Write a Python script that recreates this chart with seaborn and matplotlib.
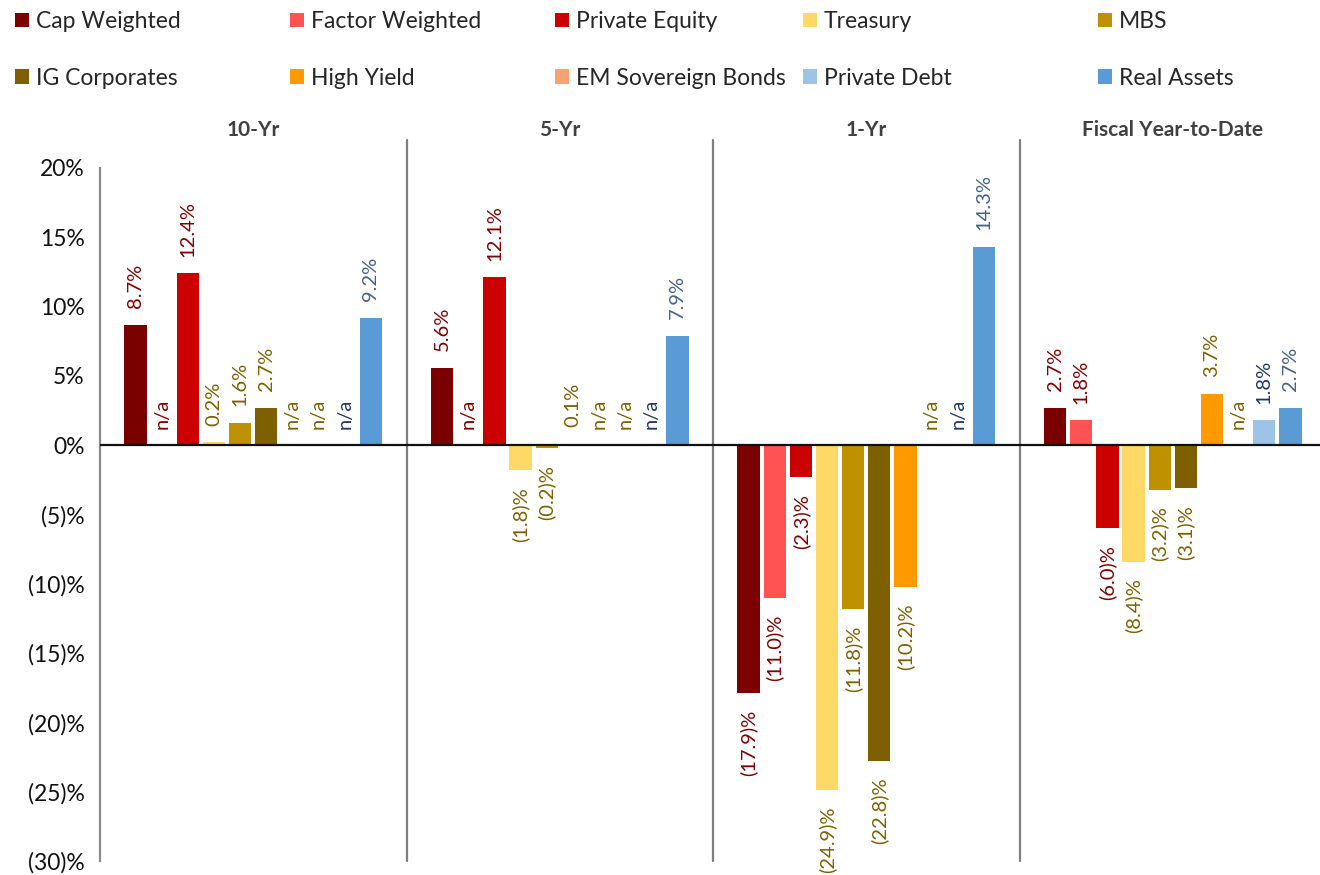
import numpy as np
import pandas as pd
import matplotlib
matplotlib.use("Agg")
import matplotlib.pyplot as plt
from matplotlib.patches import Patch
import seaborn as sns

# ---- data -------------------------------------------------------------
periods = ["10-Yr", "5-Yr", "1-Yr", "Fiscal Year-to-Date"]
assets = ["Cap Weighted", "Factor Weighted", "Private Equity", "Treasury", "MBS",
          "IG Corporates", "High Yield", "EM Sovereign Bonds", "Private Debt", "Real Assets"]

ret_10yr = [8.7, np.nan, 12.4, 0.2, 1.6, 2.7, np.nan, np.nan, np.nan, 9.2]
ret_5yr = [5.6, np.nan, 12.1, -1.8, -0.2, 0.1, np.nan, np.nan, np.nan, 7.9]
ret_1yr = [-17.9, -11.0, -2.3, -24.9, -11.8, -22.8, -10.2, np.nan, np.nan, 14.3]
ret_fytd = [2.7, 1.8, -6.0, -8.4, -3.2, -3.1, 3.7, np.nan, 1.8, 2.7]

yticks = [20, 15, 10, 5, 0, -5, -10, -15, -20, -25, -30]

# ---- styling ----------------------------------------------------------
bar_colors = ["#7B0000", "#FF5353", "#CC0000", "#FFD966", "#BF9000",
              "#7F6000", "#FF9900", "#F8A173", "#9DC3E6", "#5B9BD5"]
label_colors = ["#800000", "#800000", "#800000", "#7F6000", "#7F6000",
                "#7F6000", "#7F6000", "#7F6000", "#1F3864", "#44628A"]

sns.set_theme(style="white")
plt.rcParams["font.family"] = ["Lato", "DejaVu Sans"]

rows = []
for p, vals in zip(periods, [ret_10yr, ret_5yr, ret_1yr, ret_fytd]):
    for a, v in zip(assets, vals):
        rows.append({"period": p, "asset": a, "value": v})
df = pd.DataFrame(rows)
df["plot_value"] = df["value"].fillna(0.0)

W, H = 1320, 875
fig = plt.figure(figsize=(W / 100, H / 100), dpi=100)
y_top, y_bot = 168, 861
ax = fig.add_axes([100 / W, 1 - y_bot / H, 1 - 100 / W, (y_bot - y_top) / H])

sns.barplot(data=df, x="period", y="plot_value", hue="asset",
            order=periods, hue_order=assets, palette=bar_colors,
            saturation=1, width=0.853, gap=0.15, errorbar=None, linewidth=0,
            legend=False, ax=ax)

ax.set_xlim(-0.5, 3.5 - 6 / 306.5)
ax.set_ylim(-30, 20)
ax.set_xlabel("")
ax.set_ylabel("")
ax.set_xticks([])

def pct(v):
    return f"{v:.0f}%" if v >= 0 else f"({abs(v):.0f})%"

ax.set_yticks(yticks)
ax.set_yticklabels([pct(v) for v in yticks], fontsize=16.5, color="#111111")
ax.tick_params(axis="y", length=0, pad=11)

for s in ["top", "right", "bottom"]:
    ax.spines[s].set_visible(False)
ax.spines["left"].set_color("#8C8C8C")
ax.spines["left"].set_linewidth(1.6)

# group separators
for xs in [0.5, 1.5, 2.5]:
    ax.plot([xs, xs], [-30, 22.0], color="#7F7F7F", lw=1.6, clip_on=False, zorder=1)
ax.axhline(0, color="#111111", lw=1.6, zorder=3)

# group titles
for i, p in enumerate(periods):
    ax.text(i, 22.75, p, ha="center", va="center", fontsize=15,
            fontweight="bold", color="#404040", clip_on=False)

# value labels
for j, container in enumerate(ax.containers):
    for bar in container:
        xc = bar.get_x() + bar.get_width() / 2
        pi = int(round(xc))
        v = df.loc[(df["period"] == periods[pi]) & (df["asset"] == assets[j]), "value"].iloc[0]
        if np.isnan(v):
            txt, yv, off, va = "n/a", 0.0, 12, "bottom"
        elif v >= 0:
            txt, yv, off, va = f"{v:.1f}%", v, 12, "bottom"
        else:
            txt, yv, off, va = f"({abs(v):.1f})%", v, -12, "top"
        ax.annotate(txt, xy=(xc, yv), xytext=(0, off), textcoords="offset points",
                    rotation=90, ha="center", va=va, fontsize=14.5,
                    color=label_colors[j], zorder=4)

# legend: five columns of two entries each
col_x = [15, 290, 555, 803, 1098]
for c in range(5):
    idx = [c, c + 5]
    handles = [Patch(facecolor=bar_colors[k], edgecolor="none") for k in idx]
    fig.legend(handles, [assets[k] for k in idx], loc="upper left",
               bbox_to_anchor=(col_x[c] / W, 1 - 11 / H), frameon=False,
               fontsize=16.5, handlelength=0.6, handleheight=0.6,
               handletextpad=0.3, labelspacing=1.55, borderpad=0,
               borderaxespad=0)

fig.savefig("out.png", dpi=100)
